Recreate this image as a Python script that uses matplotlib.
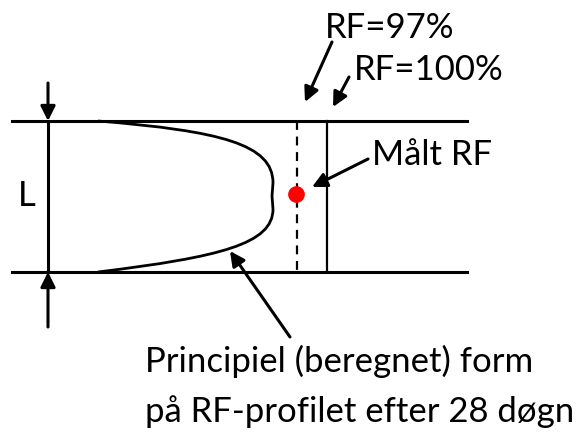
import numpy as np
import matplotlib
matplotlib.use("Agg")
import matplotlib.pyplot as plt
from matplotlib.path import Path
from matplotlib.patches import PathPatch

plt.rcParams['font.family'] = ['Lato', 'DejaVu Sans']

# diagram geometry (pixel coordinates, y downwards)
y_top, y_bot = 122, 273
x_left, x_right = 12, 467
x_dim = 48
x_rf97, x_rf100 = 297, 327
dot_xy = (296, 195)

# computed RF profile: bezier vertices / control points
curve_pts = [(98, 122), (220, 132), (273, 145), (273, 184),
             (272, 197), (273, 210),
             (273, 245), (220, 258), (98, 273)]
curve_codes = [Path.MOVETO, Path.CURVE4, Path.CURVE4, Path.CURVE4,
               Path.LINETO, Path.LINETO,
               Path.CURVE4, Path.CURVE4, Path.CURVE4]

labels = {
    'rf97': 'RF=97%',
    'rf100': 'RF=100%',
    'maalt': 'Målt RF',
    'L': 'L',
    'profil1': 'Principiel (beregnet) form',
    'profil2': 'på RF-profilet efter 28 døgn',
}

fig = plt.figure(figsize=(5.79, 4.35), dpi=100)
ax = fig.add_axes([0, 0, 1, 1])
ax.set_xlim(0, 579)
ax.set_ylim(435, 0)
ax.set_axis_off()

lw = 2.2
ax.plot([x_left, x_right], [y_top, y_top], color='black', lw=lw)
ax.plot([x_left, x_right], [y_bot, y_bot], color='black', lw=lw)
ax.plot([x_dim, x_dim], [y_top, y_bot], color='black', lw=lw)
ax.plot([x_rf97, x_rf97], [y_top, y_bot], color='black', lw=1.6, ls=(0, (4, 3)))
ax.plot([x_rf100, x_rf100], [y_top, y_bot], color='black', lw=1.6)
ax.add_patch(PathPatch(Path(curve_pts, curve_codes), fill=False,
                       edgecolor='black', lw=2.0, joinstyle='round'))
ax.plot(*dot_xy, 'o', color='#ff0000', ms=11)

arr = dict(arrowstyle='-|>', color='black', lw=2.2, mutation_scale=22, shrinkA=0, shrinkB=0)
fs = 25

# dimension arrows
ax.annotate('', xy=(x_dim, y_top), xytext=(x_dim, 84), arrowprops=arr)
ax.annotate('', xy=(x_dim, y_bot), xytext=(x_dim, 328), arrowprops=arr)
ax.text(27, 206, labels['L'], fontsize=fs, ha='center', va='baseline')

# callouts
ax.annotate('', xy=(305, 103), xytext=(332, 43), arrowprops=arr)
ax.text(325, 38, labels['rf97'], fontsize=fs, ha='left', va='baseline')
ax.annotate('', xy=(333, 108), xytext=(349, 78), arrowprops=arr)
ax.text(354, 80, labels['rf100'], fontsize=fs, ha='left', va='baseline')
ax.annotate('', xy=(312, 188), xytext=(368, 160), arrowprops=arr)
ax.text(372, 165, labels['maalt'], fontsize=fs, ha='left', va='baseline')
ax.annotate('', xy=(230, 252), xytext=(290, 338), arrowprops=arr)
ax.text(145, 372, labels['profil1'], fontsize=fs, ha='left', va='baseline')
ax.text(145, 422, labels['profil2'], fontsize=fs, ha='left', va='baseline')

fig.savefig('out.png', dpi=100)
